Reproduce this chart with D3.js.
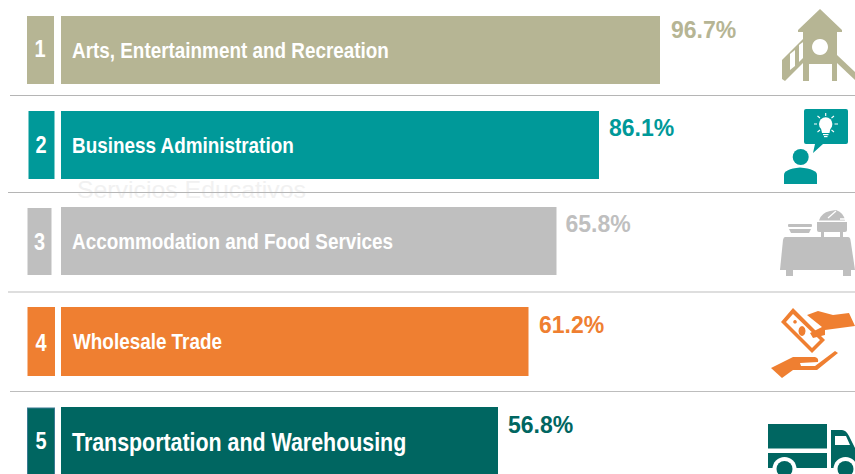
<!DOCTYPE html>
<html><head><meta charset="utf-8">
<script src="https://cdn.jsdelivr.net/npm/d3@7"></script>
<style>html,body{margin:0;padding:0;background:#fff}svg{display:block}text{font-family:"Liberation Sans",Arial,sans-serif;font-weight:bold}</style>
</head><body><svg id="c" width="855" height="474"></svg>
<script>
const ranks = ["1","2","3","4","5"];
const categories = ["Arts, Entertainment and Recreation","Business Administration","Accommodation and Food Services","Wholesale Trade","Transportation and Warehousing"];
const values = [96.7,86.1,65.8,61.2,56.8];
const colors = ["#b6b594","#009999","#bfbfbf","#ef7f31","#006661"];
const watermark = "Servicios Educativos";

const svg = d3.select("#c");
// Row geometry of the infographic
const W = 855;
const barTop = [16,111,207,307,407];
const barH = [68,68,68,69,80];
const rankBox = [[27,54],[28.5,54.5],[27.5,51.5],[27.5,55],[27.5,54.5]];
const rankTop = [16,111,208,307,408];
const rankCx = [40,41,39.5,41,41];
const rankBase = [57,153,250,351,449];
const labelSize = [22.3,22.3,22.3,22.3,25];
const labelScale = [.847,.847,.847,.847,.856];
const labelDx = [72,72,72,73,72];
const valueDx = [11,10,9,10.5,10];
const valueBase = [38,136,232,333,433];
const dividers = [{y:95.5,x0:10,c:"#b5b5b5"},{y:192.5,x0:8,c:"#b5b5b5"},{y:292,x0:8,c:"#bdbdbd"},{y:391.5,x0:10,c:"#bdbdbd"}];
// The reference's bars are not proportional to their labels, so the length scale is piecewise
const x = d3.scaleLinear().domain([...values].sort(d3.ascending)).range([498,528.5,556.5,599,660]);

svg.append("text").attr("x",77).attr("y",198).attr("font-size",24).attr("fill","#f1f1f1")
  .style("font-weight","normal").attr("textLength",229).attr("lengthAdjust","spacingAndGlyphs").text(watermark);

svg.selectAll("line.d").data(dividers).join("line").attr("x1",d=>d.x0).attr("x2",W)
  .attr("y1",d=>d.y).attr("y2",d=>d.y).attr("stroke",d=>d.c).attr("stroke-width",1.2);

const rows = svg.selectAll("g.r").data(values).join("g");
rows.append("rect").attr("x",(d,i)=>rankBox[i][0]).attr("y",(d,i)=>rankTop[i])
  .attr("width",(d,i)=>rankBox[i][1]-rankBox[i][0]).attr("height",(d,i)=>barTop[i]+barH[i]-rankTop[i])
  .attr("fill",(d,i)=>colors[i]).attr("stroke",(d,i)=>i==4?"#3a7a92":"none").attr("stroke-width",1);
rows.append("rect").attr("x",61).attr("y",(d,i)=>barTop[i]).attr("width",d=>x(d)-61)
  .attr("height",(d,i)=>barH[i]).attr("fill",(d,i)=>colors[i]);
rows.append("text").attr("text-anchor","middle").attr("font-size",23.5).attr("fill","#fff")
  .attr("transform",(d,i)=>`translate(${rankCx[i]},${rankBase[i]}) scale(.85,1)`).text((d,i)=>ranks[i]);
rows.append("text").attr("transform",(d,i)=>`translate(${labelDx[i]},${barTop[i]+(i==4?44:42)}) scale(${labelScale[i]},1)`)
  .attr("font-size",(d,i)=>labelSize[i]).attr("fill","#fff").text((d,i)=>categories[i]);
rows.append("text").attr("x",(d,i)=>x(d)+valueDx[i]).attr("y",(d,i)=>valueBase[i]).attr("font-size",23)
  .attr("fill",(d,i)=>colors[i]).text(d=>d.toFixed(1)+"%");

// Icons
const ic = (c)=>svg.append("g").attr("fill",c);
// Playground
let g = ic(colors[0]);
g.append("path").attr("fill-rule","evenodd").attr("d","M820 9L842 30V32H837V81H832V64H809V81H803V32H798V30ZM820 39a8 8 0 1 0 .01 0Z");
g.append("path").attr("d","M837 55L855 72V80L837 63Z");
g.append("path").attr("fill-rule","evenodd").attr("d","M803 39L782 60V79L785 81L803 63ZM790 54L795 50V66L790 70ZM799 45L803 42V58L799 62Z");
// Person + bulb bubble
g = ic(colors[1]);
g.append("path").attr("d","M806 109H846Q848 109 848 111V142Q848 144 846 144H823L813 153L815 144H806Q804 144 804 142V111Q804 109 806 109Z");
g.append("circle").attr("cx",800.7).attr("cy",157).attr("r",8);
g.append("path").attr("d","M784 184V175Q784 169 800 167.5Q817 169 817 175V184Z");
g = ic("#fff");
g.append("circle").attr("cx",825.7).attr("cy",124).attr("r",6.7);
g.append("path").attr("d","M821 128H830.5L829.5 133H822Z");
g.append("rect").attr("x",823).attr("y",134).attr("width",5.5).attr("height",1.2);
g.append("rect").attr("x",824).attr("y",136).attr("width",3.5).attr("height",1.2);
svg.append("path").attr("stroke","#fff").attr("stroke-width",1.1).attr("fill","none").attr("d","M825.7 113V116M814 124H817M834.5 124H838M817.5 116L820 118M834 116L831.5 118M817.5 132L820 130M834 132L831.5 130");
// Buffet
g = ic(colors[2]);
g.append("path").attr("d","M785 237H848Q850 237 850.5 240L855 270H780L783 240Q783.5 237 785 237Z");
g.append("rect").attr("x",786).attr("y",270).attr("width",7).attr("height",6);
g.append("rect").attr("x",843).attr("y",270).attr("width",8).attr("height",6);
g.append("rect").attr("x",788).attr("y",224).attr("width",24).attr("height",3).attr("rx",1);
g.append("path").attr("d","M789 229H811L809 233H791Z");
g.append("path").attr("d","M817 222H847V230Q847 232 845 232H819Q817 232 817 230Z");
g.append("rect").attr("x",821).attr("y",232).attr("width",3).attr("height",5);
g.append("rect").attr("x",840).attr("y",232).attr("width",3).attr("height",5);
g.append("path").attr("d","M819 220.5Q821 213 830 211L836 210Q844 213 845 220.5Z");
svg.append("path").attr("stroke","#fff").attr("stroke-width",1.3).attr("fill","none").attr("d","M828 218L836 211M840 219H845");
// Money hands
g = ic(colors[3]);
g.append("path").attr("fill-rule","evenodd").attr("d","M781 322L793 308L825 340L812 353ZM786 322L793 314L820 340L812 348ZM795 320a1.8 1.8 0 1 0 .01 0ZM802 326a3.5 5 0 1 0 .01 0Z");
g.append("path").attr("d","M807 315L818 311L833 315L849 313L855 326L825 330L825 335L813 338L810 333L822 327Z");
g.append("path").attr("d","M771 368L793 357H815Q819 358 818 362L800 363L801 366H815L835 351L838 353L817 370H793L782 378Z");
// Truck
g = ic(colors[4]);
g.append("rect").attr("x",768).attr("y",424).attr("width",59).attr("height",24.5);
g.append("rect").attr("x",768).attr("y",453).attr("width",59).attr("height",15);
g.append("path").attr("fill-rule","evenodd").attr("d","M831 430H842Q846 430 849 436L855 448V468H831ZM835 436V445H850L846 436Z");
[784.5,845.5].forEach(cx=>{
  svg.append("circle").attr("cx",cx).attr("cy",469).attr("r",12).attr("fill","#fff");
  svg.append("circle").attr("cx",cx).attr("cy",469).attr("r",8).attr("fill",colors[4]);
});
</script></body></html>
